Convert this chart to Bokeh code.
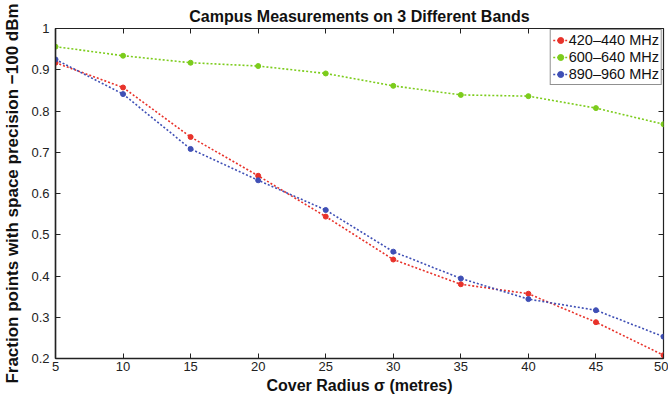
from bokeh.plotting import figure
from bokeh.models import (LinearAxis, FixedTicker, CustomJSTickFormatter, Legend,
                          LegendItem, Range1d)
from bokeh.embed import file_html
from bokeh.resources import INLINE

# Cover radius (metres) and fraction of points per band
radius = [5, 10, 15, 20, 25, 30, 35, 40, 45, 50]
band_420 = [0.917, 0.857, 0.737, 0.643, 0.544, 0.440, 0.380, 0.357, 0.288, 0.208]
band_600 = [0.956, 0.934, 0.917, 0.909, 0.891, 0.861, 0.839, 0.836, 0.807, 0.768]
band_890 = [0.925, 0.841, 0.708, 0.632, 0.560, 0.459, 0.394, 0.344, 0.317, 0.253]

band_names = ["420\u2013440 MHz", "600\u2013640 MHz", "890\u2013960 MHz"]
band_colors = ["#e8322a", "#7ccc1c", "#3f4fb5"]

x_ticks = [5, 10, 15, 20, 25, 30, 35, 40, 45, 50]
y_ticks = [0.2, 0.3, 0.4, 0.5, 0.6, 0.7, 0.8, 0.9, 1.0]

FONT = "Liberation Sans"

p = figure(width=668, height=400, output_backend="svg", toolbar_location=None,
           x_range=Range1d(5, 50), y_range=Range1d(0.2, 1.0),
           min_border_left=52, min_border_right=5, min_border_top=28,
           min_border_bottom=42)

p.title.text = "Campus Measurements on 3 Different Bands"
p.title.text_font = FONT
p.title.text_font_size = "16px"
p.title.text_font_style = "bold"
p.title.align = "center"
p.title.text_color = "#111111"
p.title.standoff = 0
p.title.offset = 0
# a little room under the title text
if "padding" in p.title.properties():
    try:
        p.title.padding = 4
    except Exception:
        pass

p.grid.visible = False
p.outline_line_color = "#222222"
p.outline_line_width = 1.2

fmt = CustomJSTickFormatter(code="return tick.toFixed(1).replace(/\\.0$/, '');")
blank = CustomJSTickFormatter(code="return '';")

for ax in p.xaxis:
    ax.ticker = FixedTicker(ticks=x_ticks)
    ax.major_label_standoff = 3
for ax in p.yaxis:
    ax.ticker = FixedTicker(ticks=y_ticks)
    ax.formatter = fmt
    ax.major_label_standoff = 6

for ax in list(p.xaxis) + list(p.yaxis):
    ax.major_tick_in = 5
    ax.major_tick_out = 0
    ax.minor_tick_line_color = None
    ax.axis_line_color = "#222222"
    ax.axis_line_width = 1.5
    ax.major_tick_line_color = "#222222"
    ax.major_label_text_font = FONT
    ax.major_label_text_font_size = "13px"
    ax.major_label_text_color = "#222222"
    ax.axis_label_text_font = FONT
    ax.axis_label_text_font_style = "bold"
    ax.axis_label_text_color = "#111111"

p.xaxis.axis_label = "Cover Radius \u03c3 (metres)"
p.xaxis.axis_label_text_font_size = "16px"
p.xaxis.axis_label_standoff = 3
p.yaxis.axis_label = "Fraction points with space precision \u2212100 dBm"
p.yaxis.axis_label_text_font_size = "17px"
p.yaxis.axis_label_standoff = 6

# inward ticks on the top and right edges of the box
top_ax = LinearAxis(ticker=FixedTicker(ticks=x_ticks), formatter=blank,
                    major_tick_in=5, major_tick_out=0, minor_tick_line_color=None,
                    axis_line_color=None, major_tick_line_color="#222222",
                    major_label_standoff=0)
right_ax = LinearAxis(ticker=FixedTicker(ticks=y_ticks), formatter=blank,
                      major_tick_in=5, major_tick_out=0, minor_tick_line_color=None,
                      axis_line_color=None, major_tick_line_color="#222222",
                      major_label_standoff=0)
p.add_layout(top_ax, "above")
p.add_layout(right_ax, "right")

items = []
for name, ys, col in zip(band_names, [band_420, band_600, band_890], band_colors):
    ln = p.line(radius, ys, line_color=col, line_width=1.6, line_dash="2 2")
    sc = p.scatter(radius, ys, size=5, fill_color=col, line_color=col)
    items.append(LegendItem(label=name, renderers=[ln, sc]))

legend = Legend(items=items, location="top_right", margin=1, padding=2, spacing=1,
                label_text_font=FONT, label_text_font_size="14.5px",
                label_text_color="#111111", label_standoff=1,
                glyph_width=15, glyph_height=16, label_height=16,
                border_line_color="#222222", border_line_width=1,
                background_fill_alpha=1.0)
p.add_layout(legend, "center")

open("out.html", "w").write(file_html(p, INLINE))
